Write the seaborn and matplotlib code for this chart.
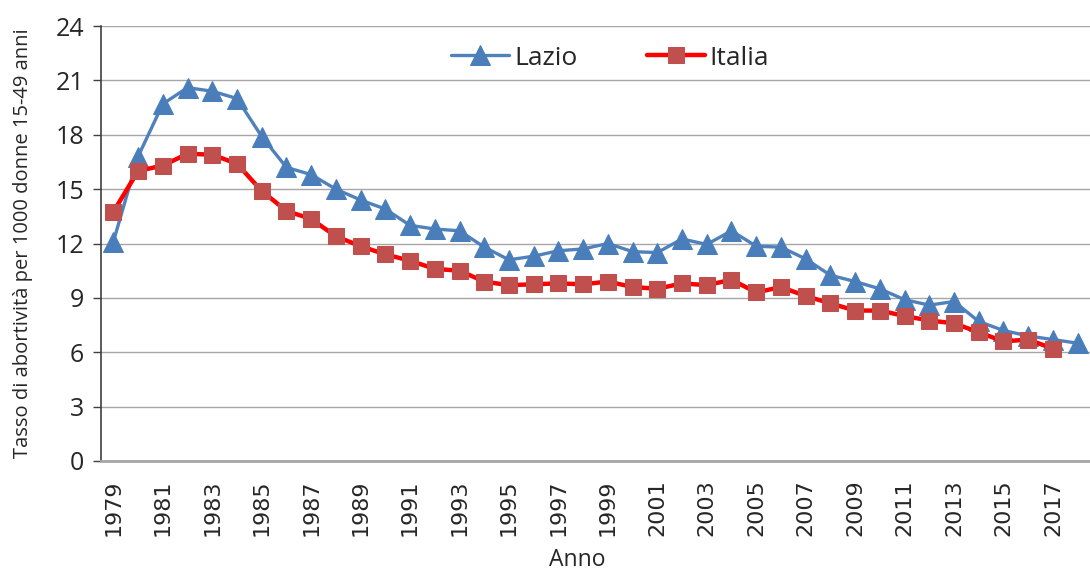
import numpy as np
import matplotlib
matplotlib.use("Agg")
import matplotlib.pyplot as plt
import seaborn as sns

anni = list(range(1979, 2019))

lazio = [12.1, 16.8, 19.7, 20.6, 20.4, 20.0, 17.9, 16.2, 15.8, 15.0,
         14.4, 13.9, 13.0, 12.8, 12.7, 11.8, 11.1, 11.3, 11.6, 11.7,
         12.0, 11.55, 11.5, 12.25, 11.95, 12.7, 11.85, 11.8, 11.15, 10.25,
         9.9, 9.5, 8.9, 8.6, 8.8, 7.7, 7.2, 6.9, 6.7, 6.5]

italia = [13.75, 16.0, 16.3, 16.95, 16.9, 16.4, 14.9, 13.8, 13.35, 12.4,
          11.85, 11.4, 11.05, 10.6, 10.5, 9.9, 9.7, 9.75, 9.8, 9.75,
          9.9, 9.6, 9.5, 9.8, 9.7, 10.0, 9.3, 9.6, 9.1, 8.7,
          8.3, 8.3, 8.0, 7.75, 7.6, 7.1, 6.6, 6.7, 6.2, np.nan]

y_ticks = list(range(0, 25, 3))
x_ticks = list(range(1979, 2018, 2))

sns.set_theme(style="white")
plt.rcParams['font.family'] = ['Open Sans', 'DejaVu Sans']

fig = plt.figure(figsize=(10.9, 5.7), dpi=100)
ax = fig.add_axes([101 / 1090, 1 - 461 / 570, 989 / 1090, 435 / 570])

sns.lineplot(x=anni, y=lazio, ax=ax, color="#4F81BD", linewidth=2.4,
             marker="^", markersize=15, markerfacecolor="#4A7EBB",
             markeredgecolor="#4A7EBB", label="Lazio", zorder=3)
sns.lineplot(x=anni, y=italia, ax=ax, color="#FF0000", linewidth=3.2,
             marker="s", markersize=11, markerfacecolor="#C0504D",
             markeredgecolor="#C0504D", label="Italia", zorder=4)

ax.set_xlim(1978.5, 2018.5)
ax.set_ylim(0, 24)
ax.set_yticks(y_ticks)
ax.set_yticklabels([str(v) for v in y_ticks], fontsize=18)
ax.set_xticks(x_ticks)
ax.set_xticklabels([str(v) for v in x_ticks], rotation=90, fontsize=16,
                   family='DejaVu Sans')
ax.set_xticks(np.arange(1978.5, 2019, 2), minor=True)

ax.grid(axis='y', color="#A6A6A6", linewidth=1)
ax.set_axisbelow(True)
ax.tick_params(axis='x', which='major', length=0, pad=13)
ax.tick_params(axis='x', which='minor', length=7, color="#A6A6A6", width=1)
ax.tick_params(axis='y', length=6, color="#404040", width=1, pad=6,
               left=True)

for s in ['top', 'right']:
    ax.spines[s].set_visible(False)
ax.spines['left'].set_color("#404040")
ax.spines['left'].set_linewidth(1.2)
ax.spines['bottom'].set_color("#A6A6A6")
ax.spines['bottom'].set_linewidth(2)

ax.set_ylabel("Tasso di abortività per 1000 donne 15-49 anni", fontsize=14.5)
ax.yaxis.set_label_coords(-0.069, 0.5)
ax.set_xlabel("Anno", fontsize=16.5)
ax.xaxis.set_label_coords(0.482, -0.199)

ax.legend(loc='center', bbox_to_anchor=(0.515, 0.926), ncol=2, frameon=False,
          fontsize=19, handlelength=2.2, columnspacing=2.6, handletextpad=0.2)

fig.savefig("out.png", dpi=100)
